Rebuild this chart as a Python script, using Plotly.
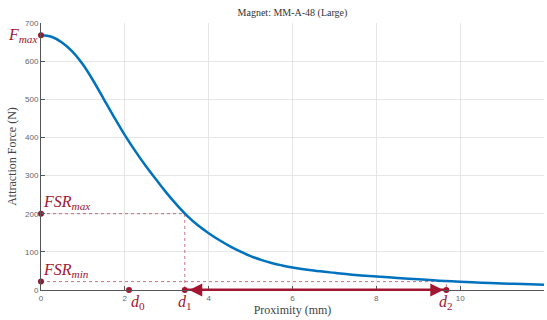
import plotly.graph_objects as go

# Data
proximity = [0, 0.25, 0.5, 0.75, 1.0, 1.25, 1.5, 1.75, 2.0, 2.25, 2.5, 2.75, 3.0, 3.25, 3.5, 3.75,
             4.0, 4.25, 4.5, 4.75, 5.0, 5.25, 5.5, 5.75, 6.0, 6.5, 7.0, 7.5, 8.0, 8.5, 9.0, 9.5,
             10.0, 10.5, 11.0, 11.5, 12.0]
force = [668, 664, 649, 625, 591, 548, 500, 452, 406, 364, 325, 289, 254, 222, 193, 169,
         149, 131, 115, 101, 89, 79, 71, 64.5, 59, 51, 45, 39.5, 35.5, 31.5, 28, 24.5,
         21.5, 19, 17, 15.5, 14]

F_max = 668
FSR_max = 200
FSR_min = 22
d0, d1, d2 = 2.10, 3.43, 9.67

x_ticks = [0, 2, 4, 6, 8, 10, 12]
y_ticks = [0, 100, 200, 300, 400, 500, 600, 700]

RED = "#A2142F"
BLUE = "#0072BD"
SERIF = "Liberation Serif, DejaVu Serif, serif"

fig = go.Figure()

# guide lines
fig.add_trace(go.Scatter(x=[0, d1, d1], y=[FSR_max, FSR_max, 0], mode="lines",
                         line=dict(color=RED, width=0.6, dash="dot"), hoverinfo="skip", cliponaxis=False))
fig.add_trace(go.Scatter(x=[0, d2, d2], y=[FSR_min, FSR_min, 0], mode="lines",
                         line=dict(color=RED, width=0.6, dash="dot"), hoverinfo="skip", cliponaxis=False))

# main curve
fig.add_trace(go.Scatter(x=proximity, y=force, mode="lines",
                         line=dict(color=BLUE, width=2.5, shape="spline", smoothing=1.0),
                         cliponaxis=False))

# range arrow (thick line)
fig.add_trace(go.Scatter(x=[d1, d2], y=[0, 0], mode="lines",
                         line=dict(color=RED, width=3), cliponaxis=False, hoverinfo="skip"))

# markers
fig.add_trace(go.Scatter(x=[0, 0, 0, d0, d1, d2], y=[F_max, FSR_max, FSR_min, 0, 0, 0],
                         mode="markers", marker=dict(color=RED, size=6), cliponaxis=False))

annotations = [
    # arrowheads
    dict(x=d2, y=0, ax=d1, ay=0, xref="x", yref="y", axref="x", ayref="y",
         showarrow=True, arrowhead=2, arrowside="end+start", arrowsize=1.3, arrowwidth=2,
         arrowcolor=RED, standoff=3, startstandoff=3, text=""),
    dict(x=0, y=F_max, xref="x", yref="y", text="<i>F</i><sub><i>max</i></sub>",
         showarrow=False, xanchor="right", yanchor="middle", xshift=-2, yshift=0,
         font=dict(family=SERIF, size=16, color=RED)),
    dict(x=0, y=FSR_max, xref="x", yref="y", text="<i>FSR</i><sub><i>max</i></sub>",
         showarrow=False, xanchor="left", yanchor="bottom", xshift=0, yshift=0,
         font=dict(family=SERIF, size=16, color=RED)),
    dict(x=0, y=FSR_min, xref="x", yref="y", text="<i>FSR</i><sub><i>min</i></sub>",
         showarrow=False, xanchor="left", yanchor="bottom", xshift=0, yshift=0,
         font=dict(family=SERIF, size=16, color=RED)),
    dict(x=d0, y=0, xref="x", yref="y", text="<i>d</i><sub>0</sub>",
         showarrow=False, xanchor="left", yanchor="top", xshift=0, yshift=-1,
         font=dict(family=SERIF, size=16, color=RED)),
    dict(x=d1, y=0, xref="x", yref="y", text="<i>d</i><sub>1</sub>",
         showarrow=False, xanchor="center", yanchor="top", xshift=0, yshift=-1,
         font=dict(family=SERIF, size=16, color=RED)),
    dict(x=d2, y=0, xref="x", yref="y", text="<i>d</i><sub>2</sub>",
         showarrow=False, xanchor="center", yanchor="top", xshift=0, yshift=-1,
         font=dict(family=SERIF, size=16, color=RED)),
]

fig.update_layout(
    width=547, height=320,
    margin=dict(l=41, r=3, t=23, b=30),
    paper_bgcolor="white", plot_bgcolor="white",
    showlegend=False,
    title=dict(text="Magnet: MM-A-48 (Large)", x=(41 + 544) / 2 / 547, xanchor="center",
               y=1 - 12 / 320, yanchor="middle",
               font=dict(family=SERIF, size=10, color="#333")),
    annotations=annotations,
    xaxis=dict(range=[0, 12], tickvals=x_ticks, ticks="inside", ticklen=4, tickcolor="#555",
               showline=True, linecolor="#555", linewidth=1, showgrid=True, gridcolor="#e6e6e6",
               zeroline=False, tickfont=dict(family="Liberation Sans, Arial, sans-serif", size=8, color="#666"),
               title=dict(text="Proximity (mm)", font=dict(family=SERIF, size=12, color="#444"), standoff=3)),
    yaxis=dict(range=[0, 700], tickvals=y_ticks, ticks="inside", ticklen=4, tickcolor="#555",
               showline=True, linecolor="#555", linewidth=1, showgrid=True, gridcolor="#e6e6e6",
               zeroline=False, tickfont=dict(family="Liberation Sans, Arial, sans-serif", size=8, color="#666"),
               title=dict(text="Attraction Force (N)", font=dict(family=SERIF, size=12, color="#444"), standoff=5)),
)

fig.write_html("out.html")
